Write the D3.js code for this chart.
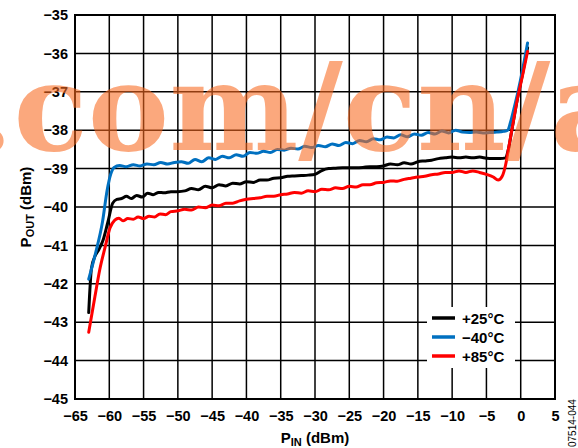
<!DOCTYPE html>
<html><head><meta charset="utf-8">
<script src="https://cdn.jsdelivr.net/npm/d3@7"></script>
<style>html,body{margin:0;padding:0;background:#fff;}svg{display:block;}</style>
</head><body>
<svg id="chart" width="578" height="448"></svg>
<script>
const xTicks = [-65,-60,-55,-50,-45,-40,-35,-30,-25,-20,-15,-10,-5,0,5];
const yTicks = [-35,-36,-37,-38,-39,-40,-41,-42,-43,-44,-45];
const seriesNames = ["+25°C", "\u221240°C", "+85°C"];
const seriesColors = ["#000000", "#0070c0", "#ff0000"];

const pin25 = [-63,-62.6,-62,-61.5,-60.9,-60.2,-59.5,-58.9,-58.2,-57.5,-56.8,-56,-55.2,-54.4,-53.6,-52.8,-52,-51,-50,-49,-48,-47,-46,-45,-44,-43,-42,-41,-40,-39,-38,-37,-36,-35,-34,-33,-32,-31,-30,-29,-28,-27,-26,-25,-24,-23,-22,-21,-20,-19,-18,-17,-16,-15,-14,-13,-12,-11,-10,-9,-8,-7,-6,-5,-4,-3,-2.2,-1.8,-1.3,-0.5,0.3,1.0];
const pout25 = [-42.75,-41.6,-41.25,-41.1,-40.86,-40.39,-39.9,-39.8,-39.78,-39.72,-39.78,-39.7,-39.74,-39.64,-39.68,-39.62,-39.63,-39.6,-39.6,-39.58,-39.52,-39.55,-39.46,-39.5,-39.42,-39.45,-39.38,-39.4,-39.34,-39.36,-39.3,-39.3,-39.25,-39.24,-39.2,-39.19,-39.18,-39.17,-39.15,-39.05,-39.0,-38.99,-38.98,-38.98,-38.98,-38.97,-38.95,-38.95,-38.93,-38.88,-38.9,-38.85,-38.88,-38.82,-38.8,-38.78,-38.74,-38.72,-38.7,-38.72,-38.7,-38.72,-38.7,-38.73,-38.74,-38.74,-38.72,-38.5,-38.0,-37.2,-36.5,-35.85];

const pinM40 = [-63,-62,-61,-60.3,-59.8,-59.3,-58.5,-57.5,-56.5,-55.5,-54.5,-53.5,-52.5,-51.5,-50.5,-49.5,-48.5,-47.5,-46.5,-45.5,-44.5,-43.5,-42.5,-41.5,-40.5,-39.5,-38.5,-37.5,-36.5,-35.5,-34.5,-33.5,-32.5,-31.5,-30.5,-29.5,-28.5,-27.5,-26.5,-25.5,-24.5,-23.5,-22.5,-21.5,-20.5,-19.5,-18.5,-17.5,-16.5,-15.5,-14.5,-13.5,-12.5,-11.5,-10.5,-9.5,-8.5,-7.5,-6.5,-5.5,-4.5,-3.5,-2.5,-1.9,-1.5,-1.0,-0.4,0.3,1.0];
const poutM40 = [-41.88,-41.2,-40.4,-39.55,-39.15,-38.97,-38.92,-38.95,-38.9,-38.93,-38.88,-38.9,-38.84,-38.88,-38.84,-38.82,-38.86,-38.76,-38.82,-38.72,-38.76,-38.68,-38.72,-38.64,-38.68,-38.58,-38.6,-38.55,-38.58,-38.5,-38.52,-38.47,-38.49,-38.42,-38.45,-38.4,-38.43,-38.36,-38.4,-38.32,-38.35,-38.27,-38.3,-38.22,-38.25,-38.18,-38.2,-38.12,-38.17,-38.1,-38.13,-38.06,-38.1,-38.02,-38.07,-38.0,-38.05,-38.06,-38.05,-38.07,-38.06,-38.05,-38.03,-38.0,-37.8,-37.45,-37.0,-36.4,-35.73];

const pin85 = [-63,-62.1,-61.4,-60.6,-59.9,-59.2,-58.6,-58,-57.3,-56.5,-55.8,-55,-54.2,-53.4,-52.6,-51.8,-51,-50,-49,-48,-47,-46,-45,-44,-43,-42,-41,-40,-39,-38,-37,-36,-35,-34,-33,-32,-31,-30,-29,-28,-27,-26,-25,-24,-23,-22,-21,-20,-19,-18,-17,-16,-15,-14,-13,-12,-11,-10,-9,-8,-7,-6,-5,-4,-3.3,-2.7,-2.2,-1.8,-1,-0.5,0.3,1.0];
const pout85 = [-43.26,-42.34,-41.64,-41.04,-40.55,-40.34,-40.29,-40.36,-40.3,-40.32,-40.26,-40.3,-40.24,-40.26,-40.18,-40.2,-40.12,-40.1,-40.06,-40.08,-40.0,-40.02,-39.95,-39.97,-39.9,-39.9,-39.84,-39.8,-39.78,-39.76,-39.72,-39.72,-39.68,-39.66,-39.62,-39.64,-39.58,-39.6,-39.54,-39.55,-39.5,-39.52,-39.46,-39.48,-39.42,-39.42,-39.37,-39.36,-39.32,-39.33,-39.28,-39.25,-39.22,-39.2,-39.16,-39.14,-39.1,-39.1,-39.06,-39.1,-39.06,-39.1,-39.15,-39.22,-39.3,-39.2,-38.9,-38.5,-37.7,-37.2,-36.55,-35.95];

const seriesPin = [pin25, pinM40, pin85];
const seriesPout = [pout25, poutM40, pout85];

const svg = d3.select("#chart");
const L = 75, R = 555, T = 15, B = 399;
const x = d3.scaleLinear().domain([-65, 5]).range([L, R]);
const y = d3.scaleLinear().domain([-45, -35]).range([B, T]);
const font = "'Liberation Sans', Arial, sans-serif";

// grid
const grid = svg.append("g");
grid.selectAll("line.v").data(xTicks).enter().append("line")
  .attr("x1", d => x(d)).attr("x2", d => x(d)).attr("y1", T).attr("y2", B)
  .attr("stroke", "#000").attr("stroke-width", 1.5);
grid.selectAll("line.h").data(yTicks).enter().append("line")
  .attr("y1", d => y(d)).attr("y2", d => y(d)).attr("x1", L).attr("x2", R)
  .attr("stroke", "#000").attr("stroke-width", 1.5);
svg.append("rect").attr("x", L).attr("y", T).attr("width", R - L).attr("height", B - T)
  .attr("fill", "none").attr("stroke", "#000").attr("stroke-width", 2);

// axes labels
const fmt = d => (d < 0 ? "\u2212" + Math.abs(d) : String(d));
const xAxis = svg.append("g").attr("transform", `translate(0,${B})`)
  .call(d3.axisBottom(x).tickValues(xTicks).tickFormat(fmt).tickSize(0).tickPadding(12));
xAxis.select(".domain").remove();
xAxis.selectAll("text").attr("font-family", font).attr("font-weight", "bold").attr("font-size", 14.5).attr("fill", "#000");
const yAxis = svg.append("g").attr("transform", `translate(${L},0)`)
  .call(d3.axisLeft(y).tickValues(yTicks).tickFormat(fmt).tickSize(0).tickPadding(7));
yAxis.select(".domain").remove();
yAxis.selectAll("text").attr("font-family", font).attr("font-weight", "bold").attr("font-size", 14.5).attr("fill", "#000");

// axis titles
const xt = svg.append("text").attr("x", 315).attr("y", 443).attr("text-anchor", "middle")
  .attr("font-family", font).attr("font-weight", "bold").attr("font-size", 15);
xt.append("tspan").text("P");
xt.append("tspan").text("IN").attr("font-size", 11).attr("dy", 3);
xt.append("tspan").text(" (dBm)").attr("dy", -3);
const yt = svg.append("text").attr("transform", "translate(31,207) rotate(-90)").attr("text-anchor", "middle")
  .attr("font-family", font).attr("font-weight", "bold").attr("font-size", 15);
yt.append("tspan").text("P");
yt.append("tspan").text("OUT").attr("font-size", 11).attr("dy", 3);
yt.append("tspan").text(" (dBm)").attr("dy", -3);

// lines
const line = d3.line().x(d => x(d[0])).y(d => y(d[1])).curve(d3.curveMonotoneX);
seriesPin.forEach((pins, i) => {
  const pts = pins.map((p, j) => [p, seriesPout[i][j]]);
  svg.append("path").datum(pts).attr("d", line).attr("fill", "none")
    .attr("stroke", seriesColors[i]).attr("stroke-width", 3).attr("stroke-linejoin", "round").attr("stroke-linecap", "round");
});

// legend
const lg = svg.append("g");
lg.append("rect").attr("x", 427).attr("y", 307).attr("width", 88).attr("height", 61).attr("fill", "#fff");
seriesNames.forEach((n, i) => {
  const yy = 318 + i * 19;
  lg.append("line").attr("x1", 432).attr("x2", 455).attr("y1", yy).attr("y2", yy)
    .attr("stroke", seriesColors[i]).attr("stroke-width", 3.5);
  lg.append("text").attr("x", 462).attr("y", yy + 5.5).text(n)
    .attr("font-family", font).attr("font-weight", "bold").attr("font-size", 15);
});

// side code
svg.append("text").attr("transform", "translate(576,447) rotate(-90)").text("07514-044")
  .attr("font-family", font).attr("font-size", 10).attr("fill", "#000");

// watermark
svg.append("text").attr("x", -29).attr("y", 150).text(".com/cn/ad")
  .attr("font-family", "'DejaVu Serif', serif").attr("font-weight", "bold").attr("font-size", 122)
  .attr("fill", "#f96a20").attr("opacity", 0.58);
</script>
</body></html>
